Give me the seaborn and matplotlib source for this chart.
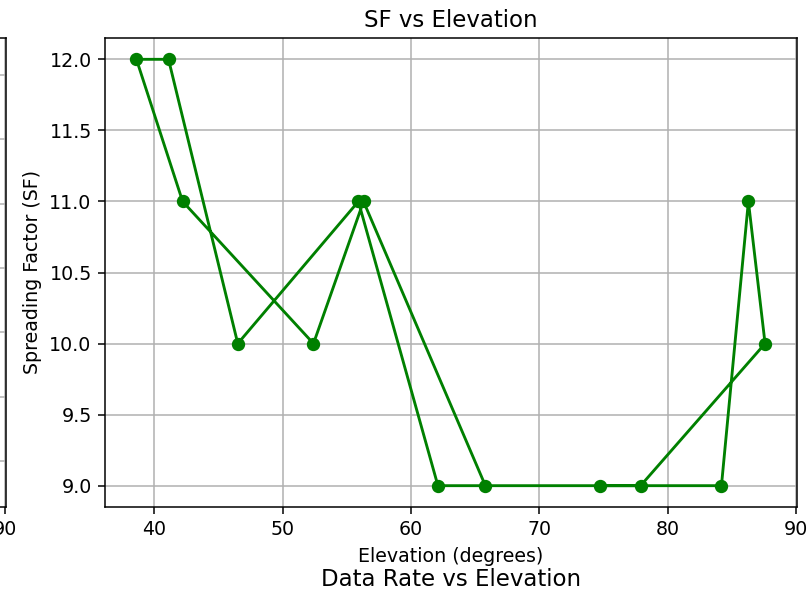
import matplotlib
matplotlib.use("Agg")
import matplotlib.pyplot as plt
import seaborn as sns
import pandas as pd

# Data (in plotted order)
elevation = [65.8, 56.3, 52.4, 42.2, 38.6, 41.1, 46.5, 55.9, 62.1, 84.2, 86.3, 87.6, 77.9, 74.7]
spreading_factor = [9, 11, 10, 11, 12, 12, 10, 11, 9, 9, 11, 10, 9, 9]
x_ticks = [40, 50, 60, 70, 80, 90]

title_main = "SF vs Elevation"
title_below = "Data Rate vs Elevation"
xlabel = "Elevation (degrees)"
ylabel = "Spreading Factor (SF)"

df = pd.DataFrame({"Elevation": elevation, "SF": spreading_factor})

W, H = 810, 593
DPI = 137
fig = plt.figure(figsize=(W / DPI, H / DPI), dpi=DPI)

def frac(x0, y0, x1, y1):
    return [x0 / W, 1 - y1 / H, (x1 - x0) / W, (y1 - y0) / H]

# main axes
ax = fig.add_axes(frac(105, 38, 796.5, 507))
sns.lineplot(data=df, x="Elevation", y="SF", sort=False, estimator=None,
             marker="o", color="green", markersize=6, markeredgecolor="green",
             markeredgewidth=1, linewidth=1.5, ax=ax)
ax.set_title(title_main)
ax.set_xlabel(xlabel)
ax.set_ylabel(ylabel)
ax.grid(True)
ax.set_xticks(x_ticks)

# neighbouring axes on the left (mostly outside the figure)
axl = fig.add_axes(frac(6 - 691.5, 38, 6, 507))
axl.set_xlim(ax.get_xlim())
axl.set_ylim(-0.715, 6.575)
axl.set_xticks(x_ticks)
axl.set_yticks(range(7))
axl.grid(True)

# axes below (only its title is visible)
axb = fig.add_axes(frac(105, 597.5, 796.5, 1100))
axb.set_title(title_below)
axb.set_xticks([])
axb.set_yticks([])

fig.savefig("out.png", dpi=DPI)
